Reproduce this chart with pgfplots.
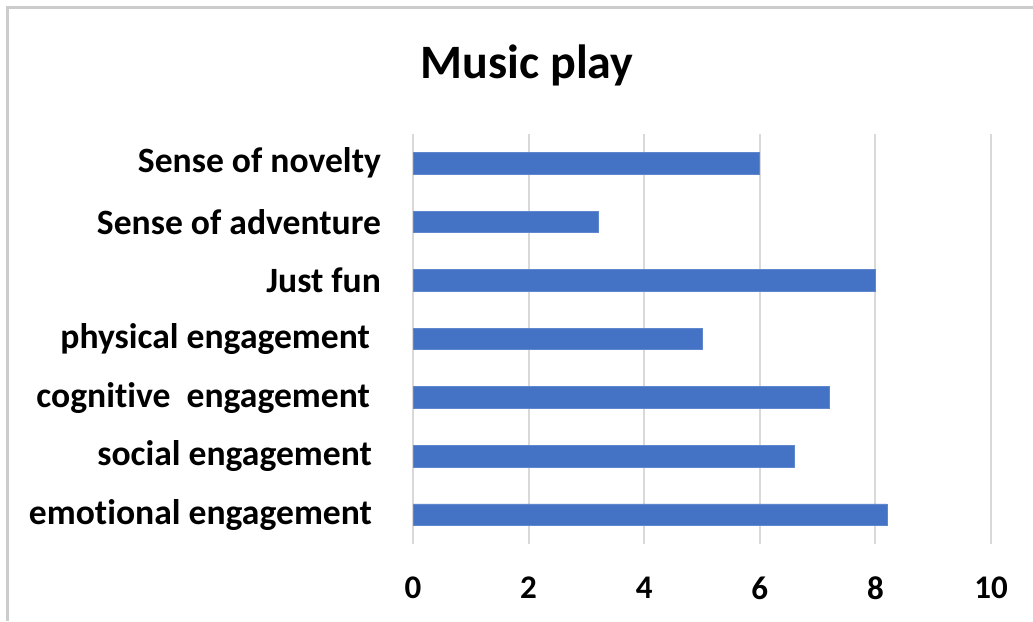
\documentclass[border=0pt]{standalone}
\usepackage{pgfplots}
\pgfplotsset{compat=1.18}
\usepackage{fontspec}
\setmainfont{Carlito}[Ligatures=NoCommon]
\definecolor{barblue}{HTML}{4472C4}
\definecolor{gridgray}{HTML}{D9D9D9}
\newcommand{\trail}[1]{\rule{#1}{0pt}}
\begin{document}
\begin{tikzpicture}
\path[use as bounding box] (0,0) rectangle (516.5pt,310.5pt);
\draw[color=gray!40, line width=1.5pt] (3.8pt,0pt) -- (3.8pt,306.5pt) -- (516.5pt,306.5pt);
\node[font=\fontsize{24}{28}\selectfont\bfseries] at (263.5pt,278pt) {Music play};
\begin{axis}[
  at={(206.5pt,38.5pt)}, anchor=south west,
  scale only axis, width=289pt, height=205pt,
  xbar, bar width=10.8pt,
  xmin=0, xmax=10, ymin=-0.5, ymax=6.5,
  xtick={0,2,4,6,8,10},
  ytick={0,1,2,3,4,5,6},
  yticklabels={emotional engagement\trail{4.5pt},social engagement\trail{4.5pt},cognitive\ \ engagement\trail{5.5pt},physical engagement\trail{5.5pt},Just fun,Sense of adventure,Sense of novelty},
  axis line style={draw=none},
  major tick length=0pt,
  xmajorgrids, grid style={gridgray, line width=1pt},
  xticklabel style={font=\fontsize{16.5}{19}\selectfont\bfseries, yshift=-13pt},
  yticklabel style={font=\fontsize{17.8}{21}\selectfont\bfseries, xshift=-12.5pt},
  /pgf/number format/assume math mode=true,
]
\addplot[fill=barblue, draw=barblue!85!white, line width=0.4pt] coordinates {
(8.2,0) (6.6,1) (7.2,2) (5.0,3) (8.0,4) (3.2,5) (6.0,6)};
\end{axis}
\end{tikzpicture}
\end{document}
